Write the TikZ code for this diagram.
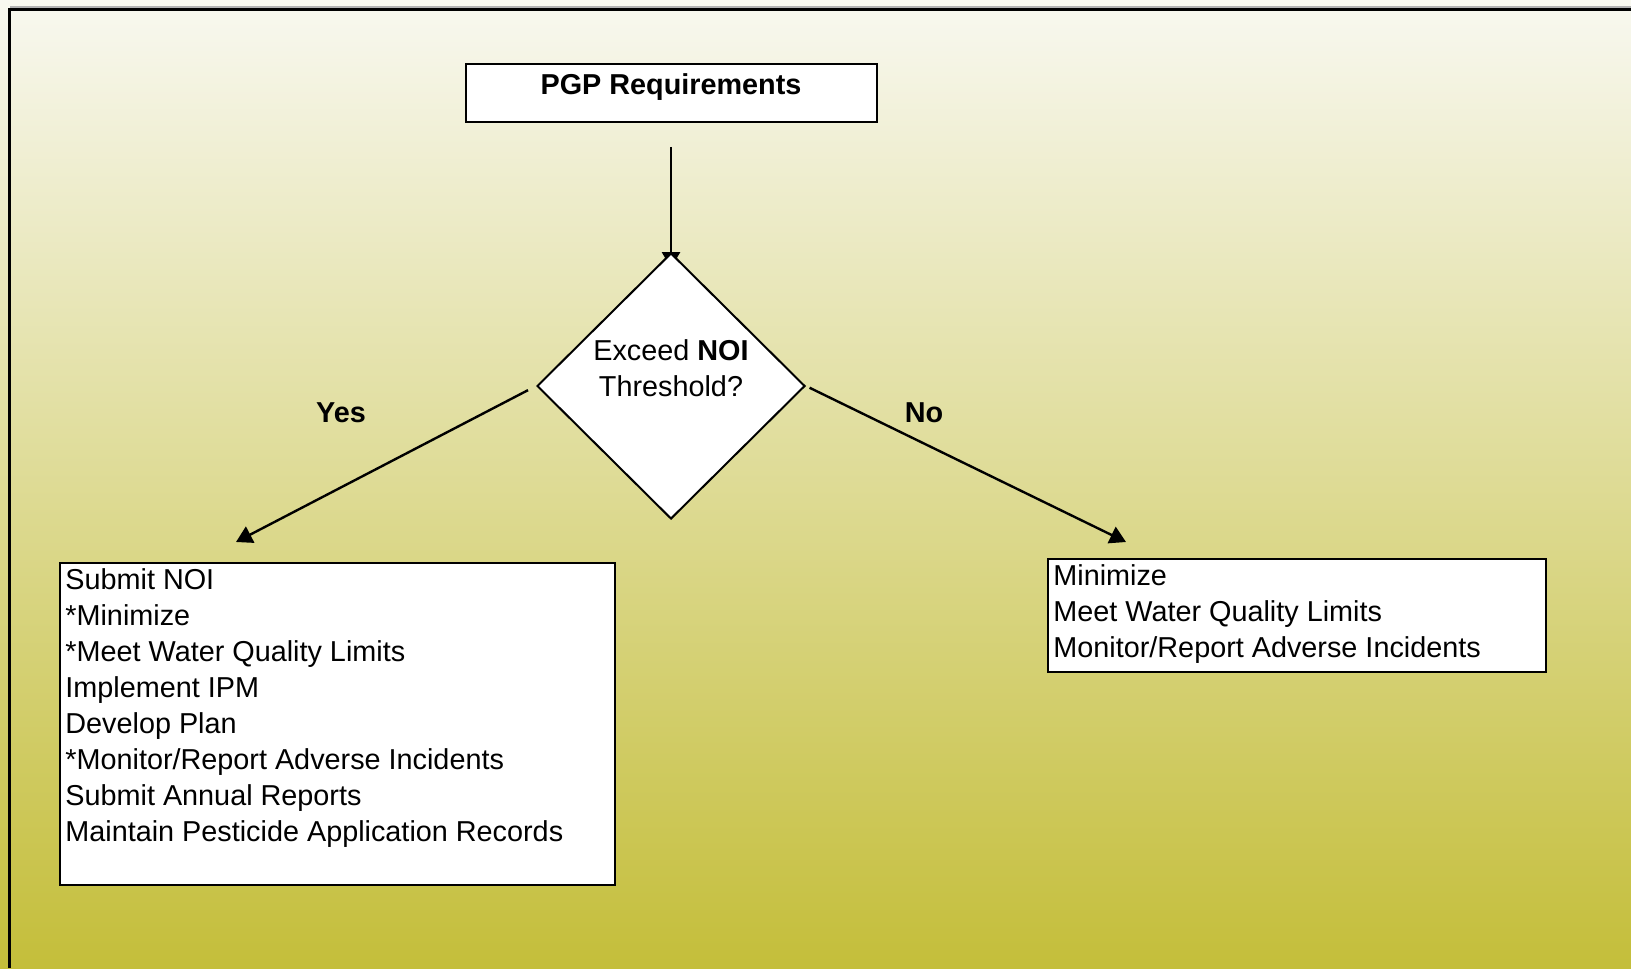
\documentclass[tikz,border=0pt]{standalone}
\usepackage{fontspec}
\setmainfont{Liberation Sans}
\usetikzlibrary{positioning,shapes.geometric,arrows.meta}
\pgfdeclarelayer{bg}
\pgfsetlayers{bg,main}
\definecolor{shadetop}{RGB}{248,248,240}
\definecolor{shademid}{RGB}{221,218,163}
\definecolor{shadebot}{RGB}{196,190,58}
\tikzset{
  box/.style={draw,fill=white,line width=1pt,inner sep=0pt},
  items/.style={align=left,inner sep=3pt,font=\fontsize{14.4}{18}\selectfont},
  arr/.style={line width=1.2pt,-{Triangle[length=8pt,width=9pt]}},
  answer/.style={font=\fontsize{14.4}{18}\selectfont\bfseries}
}

\begin{document}
\begin{tikzpicture}[x=0.5pt,y=-0.5pt]
\useasboundingbox (0,0) rectangle (1631,968);
\begin{pgfonlayer}{bg}
\shade [top color=shadetop,middle color=shademid,bottom color=shadebot] (0,0) rectangle (1631,968);
\end{pgfonlayer}
\draw [gray!60,line width=0.6pt] (10,7) -- (1631,7);
\draw [line width=1.5pt] (9,968) -- (9,10) -- (1631,10);

\node [box,minimum width=205.5pt,minimum height=29pt,inner sep=3pt,text height=12.15pt,text depth=10.85pt,font=\fontsize{14.4}{18}\selectfont\bfseries] (pgp) at (671,93) {PGP Requirements};
\node [diamond,draw,fill=white,line width=1pt,minimum width=134pt,minimum height=133pt,inner sep=0pt,align=center,font=\fontsize{14.4}{18}\selectfont] (dec) at (671,386) {Exceed \textbf{NOI}\\Threshold?\\\mbox{}};

\node [box,minimum width=277.5pt,minimum height=161pt] (yesbox) at (337.5,724) {};
\node [items,below right=0pt of yesbox.north west] (yeslist) {Submit NOI\\*Minimize\\*Meet Water Quality Limits\\Implement IPM\\Develop Plan\\*Monitor/Report Adverse Incidents\\Submit Annual Reports\\Maintain Pesticide Application Records};
\node [box,minimum width=249pt,minimum height=56.5pt] (nobox) at (1297,615.5) {};
\node [items,below right=0pt of nobox.north west] (nolist) {Minimize\\Meet Water Quality Limits\\Monitor/Report Adverse Incidents};

\node [answer] (yes) at (341,413) {Yes};
\node [answer] (no) at (924,413) {No};
\coordinate (yesend) at (236,542);
\coordinate (noend) at (1126,542);

\begin{pgfonlayer}{bg}
\draw [arr,line width=1.4pt,shorten <=12pt,shorten >=-8pt] (pgp.south) -- (dec.north);
\end{pgfonlayer}
\draw [arr,shorten <=4.5pt] (dec.west) -- (yesend);
\draw [arr,shorten <=2pt] (dec.east) -- (noend);
\end{tikzpicture}
\end{document}
